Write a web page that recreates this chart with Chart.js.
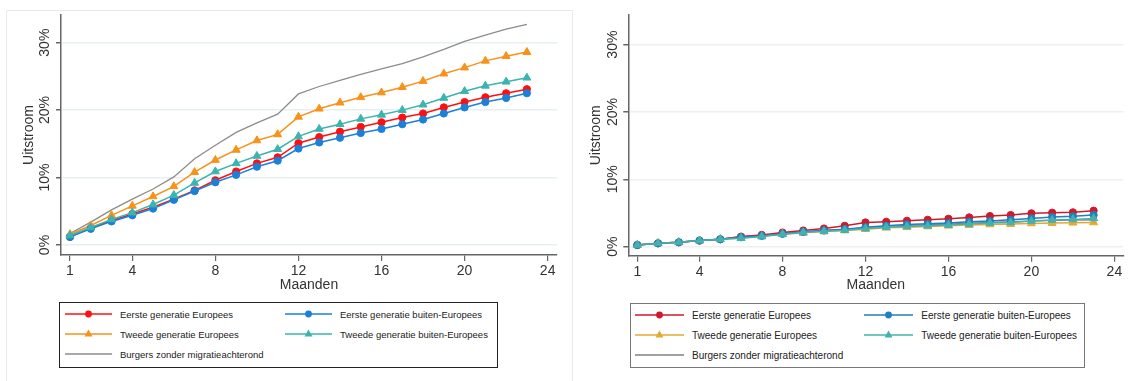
<!DOCTYPE html>
<html>
<head>
<meta charset="utf-8">
<script src="https://cdn.jsdelivr.net/npm/chart.js@4/dist/chart.umd.min.js"></script>
<style>
  body { margin: 0; background: #fff; width: 1132px; height: 381px; position: relative; overflow: hidden;
         font-family: "Liberation Sans", Arial, sans-serif; }
  .wrap { position: absolute; top: 0; height: 300px; }
  .frame { position: absolute; left: 6px; top: 10px; width: 565px; height: 380px; border: 1px solid #e4ecee; }
  .legend { position: absolute; box-sizing: border-box; background: #fff; }
  .item { position: absolute; height: 16px; display: flex; align-items: center; white-space: nowrap; color: #222; }
</style>
</head>
<body>
<div class="frame"></div>
<div class="wrap" style="left:0;width:570px"><canvas id="left" width="570" height="300"></canvas></div>
<div class="wrap" style="left:570px;width:562px"><canvas id="right" width="562" height="300"></canvas></div>
<div class="legend" id="legLeft" style="left:59px;top:302px;width:439px;height:66px;border:1px solid #222"></div>
<div class="legend" id="legRight" style="left:630px;top:303px;width:455px;height:65px;border:1px solid #777"></div>
<script>
const months = [1,2,3,4,5,6,7,8,9,10,11,12,13,14,15,16,17,18,19,20,21,22,23];
const xTicks = [1, 4, 8, 12, 16, 20, 24];
const yTicks = [0, 10, 20, 30];
const seriesNames = [
  'Eerste generatie Europees',
  'Eerste generatie buiten-Europees',
  'Tweede generatie Europees',
  'Tweede generatie buiten-Europees',
  'Burgers zonder migratieachterond'
];

// left panel (%)
const redLeft    = [1.2,2.5,3.6,4.6,5.6,6.8,8.1,9.6,10.9,12.1,13.0,15.1,16.0,16.8,17.5,18.2,18.9,19.5,20.4,21.2,21.9,22.5,23.1];
const blueLeft   = [1.2,2.4,3.5,4.4,5.4,6.7,8.0,9.3,10.4,11.6,12.5,14.3,15.2,15.9,16.6,17.2,17.9,18.6,19.5,20.4,21.2,21.8,22.5];
const orangeLeft = [1.6,2.9,4.4,5.8,7.2,8.7,10.8,12.6,14.1,15.5,16.4,19.0,20.2,21.1,21.9,22.6,23.4,24.3,25.4,26.3,27.3,28.0,28.6];
const tealLeft   = [1.4,2.6,3.8,4.8,6.0,7.4,9.2,10.9,12.1,13.2,14.2,16.1,17.2,17.9,18.7,19.3,20.0,20.8,21.8,22.8,23.6,24.2,24.8];
const grayLeft   = [1.7,3.4,5.2,6.8,8.3,10.1,12.8,14.8,16.7,18.1,19.4,22.4,23.5,24.4,25.3,26.1,26.9,27.9,29.0,30.2,31.1,32.0,32.7];

// right panel (%)
const redRight    = [0.25,0.5,0.65,0.9,1.1,1.5,1.75,2.1,2.4,2.7,3.1,3.6,3.7,3.85,4.0,4.15,4.35,4.55,4.7,4.95,5.05,5.1,5.35];
const blueRight   = [0.25,0.5,0.65,0.9,1.1,1.4,1.6,1.9,2.2,2.4,2.6,2.9,3.1,3.3,3.4,3.5,3.7,3.8,4.0,4.2,4.4,4.5,4.7];
const orangeRight = [0.25,0.5,0.65,0.9,1.1,1.3,1.55,1.85,2.05,2.25,2.4,2.6,2.8,2.9,3.0,3.1,3.2,3.3,3.35,3.45,3.5,3.55,3.6];
const tealRight   = [0.25,0.5,0.65,0.9,1.1,1.25,1.5,1.85,2.1,2.3,2.45,2.7,2.9,3.0,3.1,3.2,3.35,3.5,3.6,3.8,3.95,4.05,4.2];
const grayRight   = [0.25,0.5,0.65,0.9,1.1,1.45,1.65,1.95,2.2,2.4,2.55,2.8,3.0,3.15,3.25,3.35,3.5,3.6,3.7,3.8,3.9,3.95,4.0];

const leftColors  = ['#ff1010', '#1a80d8', '#f7921a', '#3bb4b0', '#8c8c8c'];
const rightColors = ['#d01a2a', '#1f7fbf', '#e6a832', '#45b0b0', '#808080'];
const markers = ['circle', 'circle', 'triangle', 'triangle', false];
const drawOrder = [4, 2, 3, 1, 5];

function toPoints(vals) {
  return vals.map((v, i) => ({ x: months[i], y: v }));
}

function makeChart(id, series, colors, o) {
  const datasets = series.map((vals, i) => ({
    label: seriesNames[i],
    data: toPoints(vals),
    borderColor: colors[i],
    backgroundColor: colors[i],
    borderWidth: i === 4 ? 1.3 : 1.5,
    pointStyle: markers[i],
    pointRadius: markers[i] === 'triangle' ? 4.6 : (markers[i] ? 3.6 : 0),
    pointBorderWidth: 1,
    order: drawOrder[i],
    tension: 0
  }));
  return new Chart(document.getElementById(id), {
    type: 'line',
    data: { datasets: datasets },
    options: {
      responsive: false,
      animation: false,
      devicePixelRatio: 1,
      layout: { padding: { top: 15, right: o.padRight, left: 0, bottom: 0 } },
      plugins: { legend: { display: false }, tooltip: { enabled: false } },
      scales: {
        x: {
          type: 'linear', min: o.xMin, max: o.xMax,
          afterBuildTicks: s => { s.ticks = xTicks.map(v => ({ value: v })); },
          afterFit: s => { s.height = o.xHeight; },
          ticks: { font: { size: 14 }, color: '#333', padding: 2, maxRotation: 0, autoSkip: false },
          grid: { drawOnChartArea: false, tickLength: 6, tickColor: '#666', lineWidth: 1.2 },
          border: { color: '#666', width: 1.5 },
          title: { display: true, text: 'Maanden', font: { size: 14 }, color: '#333', padding: { top: 0, bottom: 6 } }
        },
        y: {
          min: o.yMin, max: o.yMax,
          afterBuildTicks: s => { s.ticks = yTicks.map(v => ({ value: v })); },
          afterFit: s => { s.width = o.yWidth; },
          ticks: { font: { size: 14 }, color: '#333', minRotation: 90, maxRotation: 90,
                   crossAlign: 'center', padding: o.yTickPad, callback: v => v + '%' },
          grid: { color: o.gridColor, lineWidth: 1.5, tickLength: 5, tickColor: '#666' },
          border: { color: '#666', width: 1.5 },
          title: { display: true, text: 'Uitstroom', font: { size: 14 }, color: '#333', padding: { top: o.yTitlePad, bottom: 0 } }
        }
      }
    }
  });
}

makeChart('left', [redLeft, blueLeft, orangeLeft, tealLeft, grayLeft], leftColors, {
  xMin: 0.567, xMax: 24.45, yMin: -1.48, yMax: 34.1, yWidth: 61, xHeight: 45,
  padRight: 13, yTickPad: -3, yTitlePad: 20.6, gridColor: '#e6eff1'
});
makeChart('right', [redRight, blueRight, orangeRight, tealRight, grayRight], rightColors, {
  xMin: 0.566, xMax: 24.43, yMin: -1.34, yMax: 34.4, yWidth: 58.3, xHeight: 44.3,
  padRight: 8.7, yTickPad: -3.4, yTitlePad: 17.3, gridColor: '#efefef'
});

function legendSample(color, marker, w) {
  const c = w / 2;
  let m = '';
  if (marker === 'circle') m = `<circle cx="${c}" cy="8" r="3.4" fill="${color}"/>`;
  if (marker === 'triangle') m = `<polygon points="${c},3.6 ${c + 4},10.4 ${c - 4},10.4" fill="${color}"/>`;
  return `<svg width="${w}" height="16"><line x1="0" y1="8" x2="${w}" y2="8" stroke="${color}" stroke-width="1.5"/>${m}</svg>`;
}

function buildLegend(id, colors, l) {
  const box = document.getElementById(id);
  const pos = [[0, 0], [1, 0], [0, 1], [1, 1], [0, 2]];
  seriesNames.forEach((name, i) => {
    const [col, row] = pos[i];
    const el = document.createElement('div');
    el.className = 'item';
    el.style.left = l.cols[col] + 'px';
    el.style.top = (l.rows[row] - 8) + 'px';
    el.style.fontSize = l.font + 'px';
    el.innerHTML = legendSample(colors[i], markers[i], l.w) +
      `<span style="margin-left:${l.gap}px">${name}</span>`;
    box.appendChild(el);
  });
}

buildLegend('legLeft', leftColors, { cols: [5, 225], rows: [11.3, 31, 51], w: 47, gap: 8, font: 9.5 });
buildLegend('legRight', rightColors, { cols: [4, 233.3], rows: [11.3, 31.3, 51], w: 49, gap: 8, font: 10 });
</script>
</body>
</html>
